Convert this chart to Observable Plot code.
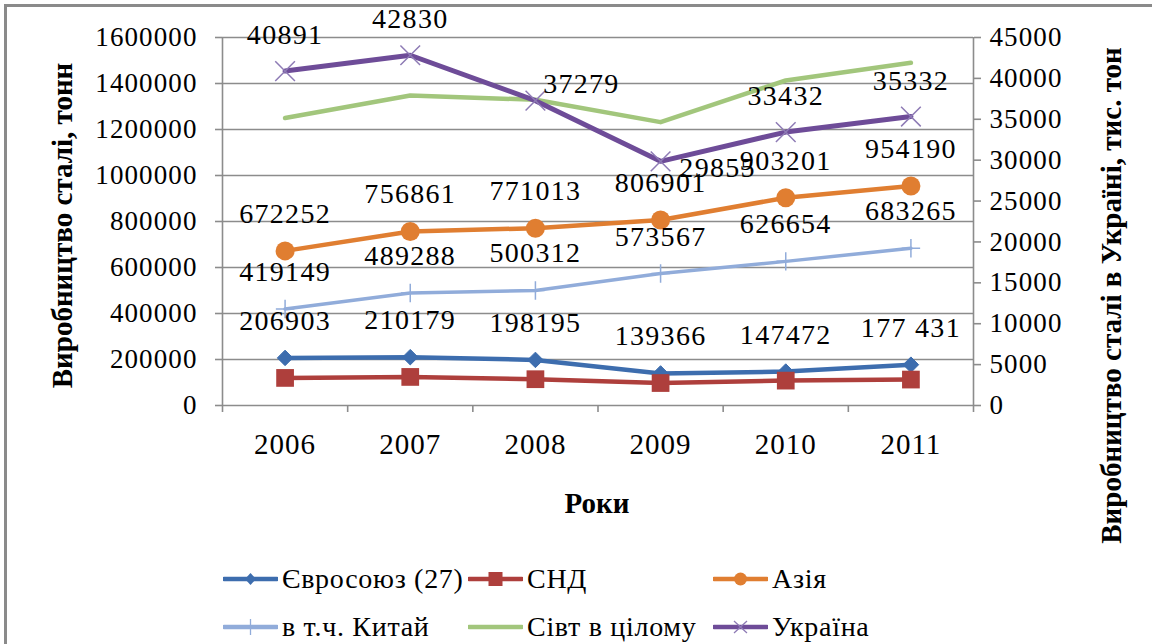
<!DOCTYPE html>
<html>
<head>
<meta charset="utf-8">
<script src="https://cdn.jsdelivr.net/npm/d3@7"></script>
<script src="https://cdn.jsdelivr.net/npm/@observablehq/plot@0.6"></script>
<style>
  html, body { margin: 0; padding: 0; background: #fff; }
  #wrap { position: relative; width: 1152px; height: 644px; overflow: hidden;
          font-family: "Liberation Serif", "Times New Roman", serif; color: #000; }
  #frame { position: absolute; left: 4px; top: 4px; width: 1200px; height: 700px;
           border: 3px solid #8a8a8a; box-sizing: border-box; pointer-events: none; }
  .title { position: absolute; white-space: nowrap; font-weight: bold; font-size: 29px; }
  .leg { position: absolute; display: flex; align-items: center; height: 40px;
         font-size: 28px; letter-spacing: 0.7px; white-space: nowrap; }
  .leg svg { display: block; margin-right: 4px; }
  #wrap svg g[aria-label="text"] text { letter-spacing: 1.3px; }
  #wrap svg g[aria-label="y-axis tick label"] text { letter-spacing: 1.1px; }
  #wrap svg g[aria-label="x-axis tick label"] text { letter-spacing: 1px; }
</style>
</head>
<body>
<div id="wrap"></div>
<script>
// ---------- data ----------
const years = [2006, 2007, 2008, 2009, 2010, 2011];
const seriesNames = ["Євросоюз (27)", "СНД", "Азія", "в т.ч. Китай", "Сівт в цілому", "Україна"];
const euValues    = [206903, 210179, 198195, 139366, 147472, 177431];
const euLabels    = ["206903", "210179", "198195", "139366", "147472", "177 431"];
const cisValues   = [119900, 124200, 114300, 97700, 108200, 112800];
const asiaValues  = [672252, 756861, 771013, 806901, 903201, 954190];
const chinaValues = [419149, 489288, 500312, 573567, 626654, 683265];
const worldValues = [1250000, 1348000, 1329000, 1232000, 1413000, 1490000];
const ukraineValues = [40891, 42830, 37279, 29855, 33432, 35332];
const leftTicks  = [0, 200000, 400000, 600000, 800000, 1000000, 1200000, 1400000, 1600000];
const rightTicks = [0, 5000, 10000, 15000, 20000, 25000, 30000, 35000, 40000, 45000];
const xTitle = "Роки";
const leftTitle = "Виробництво сталі, тонн";
const rightTitle = "Виробництво сталі в Україні, тис. тон";

// ---------- build ----------
const leftMax = 1600000, rightMax = 45000;
const k = leftMax / rightMax; // right-axis units -> left-axis units

const colors = ["#3D6DAE", "#AE3F3C", "#E07E31", "#91ACDA", "#A2C67C", "#6E4C98"];
const valueSets = [euValues, cisValues, asiaValues, chinaValues, worldValues, ukraineValues];
const rows = valueSets.map((vals, s) => years.map((year, i) => ({
  s, year, value: vals[i], y: s === 5 ? vals[i] * k : vals[i]
})));

const grid = "#8c8c8c";
const F = "'Liberation Serif', 'Times New Roman', serif";

const lineW = [4.5, 4.5, 4.5, 3.5, 4.5, 5];
const marks = [
  Plot.gridY(leftTicks.slice(1), {stroke: grid, strokeOpacity: 1, strokeWidth: 1.6}),
  Plot.ruleY([0], {stroke: grid, strokeWidth: 1.6}),
  Plot.ruleX([2005.5, 2011.5], {y1: 0, y2: leftMax, stroke: grid, strokeWidth: 1.6}),
  Plot.axisY({ticks: leftTicks, tickFormat: d => String(d), tickSize: 7, tickPadding: 18,
              stroke: grid, strokeWidth: 1.6, fontSize: 27, fontFamily: F, label: null}),
  Plot.axisY({anchor: "right", ticks: rightTicks.map(v => v * k),
              tickFormat: d => String(Math.round(d / k)), tickSize: 7, tickPadding: 9,
              stroke: grid, strokeWidth: 1.6, fontSize: 27, fontFamily: F, label: null}),
  Plot.axisX({ticks: d3.range(2005.5, 2012, 1), tickFormat: () => "", tickSize: 7,
              stroke: grid, strokeWidth: 1.6, label: null}),
  Plot.axisX({ticks: years, tickFormat: d => String(d), tickSize: 0, tickPadding: 28,
              fontSize: 29, fontFamily: F, label: null})
];
rows.forEach((r, s) => {
  marks.push(Plot.line(r, {x: "year", y: "y", stroke: colors[s], strokeWidth: lineW[s],
                           strokeLinejoin: "round", strokeLinecap: "round"}));
});
// markers
marks.push(Plot.dot(rows[0], {x: "year", y: "y", symbol: "diamond2", r: 7, fill: colors[0], stroke: colors[0], strokeWidth: 1}));
marks.push(Plot.dot(rows[1], {x: "year", y: "y", symbol: "square", r: 10, fill: colors[1]}));
marks.push(Plot.dot(rows[2], {x: "year", y: "y", symbol: "circle", r: 9.5, fill: colors[2]}));
marks.push(Plot.dot(rows[3], {x: "year", y: "y", symbol: "plus", r: 6, stroke: colors[3], strokeWidth: 1.5}));
marks.push(Plot.dot(rows[5], {x: "year", y: "y", symbol: "times", r: 9, stroke: "#8E7BB5", strokeWidth: 1.5}));

// data labels
const lab = {fill: "#000", fontSize: 28, fontFamily: F};
marks.push(Plot.text(rows[0], {x: "year", y: "y", text: (d, i) => euLabels[i], dy: -37, ...lab}));
marks.push(Plot.text(rows[2], {x: "year", y: "y", text: d => String(d.value), dy: -37, ...lab}));
marks.push(Plot.text(rows[3], {x: "year", y: "y", text: d => String(d.value), dy: -37, ...lab}));
const ua = rows[5];
marks.push(Plot.text(ua.filter(d => d.year !== 2008 && d.year !== 2009), {x: "year", y: "y", text: d => String(d.value), dy: -36, ...lab}));
marks.push(Plot.text(ua.filter(d => d.year === 2008), {x: "year", y: "y", text: d => String(d.value), dx: 46, dy: -17, ...lab}));
marks.push(Plot.text(ua.filter(d => d.year === 2009), {x: "year", y: "y", text: d => String(d.value), dx: 57, dy: 7, ...lab}));

const chart = Plot.plot({
  width: 1152, height: 644,
  marginLeft: 222, marginRight: 179, marginTop: 37, marginBottom: 239,
  style: {fontFamily: F, fontSize: "26px", color: "#000", background: "transparent", overflow: "visible"},
  x: {type: "linear", domain: [2005.5, 2011.5]},
  y: {domain: [0, leftMax]},
  marks
});

const wrap = document.getElementById("wrap");
chart.style.position = "absolute";
chart.style.left = "0px";
chart.style.top = "0px";
wrap.appendChild(chart);

// titles
function addTitle(text, cx, cy, rot) {
  const d = document.createElement("div");
  d.className = "title";
  d.textContent = text;
  wrap.appendChild(d);
  const w = d.offsetWidth, h = d.offsetHeight;
  d.style.left = (cx - w / 2) + "px";
  d.style.top = (cy - h / 2) + "px";
  if (rot) d.style.transform = `rotate(${rot}deg)`;
}
addTitle(leftTitle, 63, 225, -90);
addTitle(rightTitle, 1111, 295, -90);
addTitle(xTitle, 597, 503, 0);

// legend
const legPos = [[223, 579], [468, 579], [713, 579], [223, 627], [468, 627], [713, 627]];
const legSym = ["diamond", "square", "circle", "plus", "none", "times"];
seriesNames.forEach((name, s) => {
  const item = document.createElement("div");
  item.className = "leg";
  item.style.left = legPos[s][0] + "px";
  item.style.top = (legPos[s][1] - 20) + "px";
  const c = colors[s];
  let sym = "";
  if (legSym[s] === "diamond") sym = `<path d="M27.5,14 L33,20 L27.5,26 L22,20 Z" fill="${c}"/>`;
  if (legSym[s] === "square") sym = `<rect x="20.5" y="13" width="14" height="14" fill="${c}"/>`;
  if (legSym[s] === "circle") sym = `<circle cx="27.5" cy="20" r="6.5" fill="${c}"/>`;
  if (legSym[s] === "plus") sym = `<path d="M27.5,12 V28" stroke="${c}" stroke-width="1.3"/>`;
  if (legSym[s] === "times") sym = `<path d="M21,14 L34,26 M34,14 L21,26" stroke="#8E7BB5" stroke-width="1.3"/>`;
  item.innerHTML = `<svg width="55" height="40"><line x1="1" y1="20" x2="54" y2="20" stroke="${c}" stroke-width="4.5" stroke-linecap="round"/>${sym}</svg><span>${name}</span>`;
  wrap.appendChild(item);
});

const frame = document.createElement("div");
frame.id = "frame";
wrap.appendChild(frame);
</script>
</body>
</html>
